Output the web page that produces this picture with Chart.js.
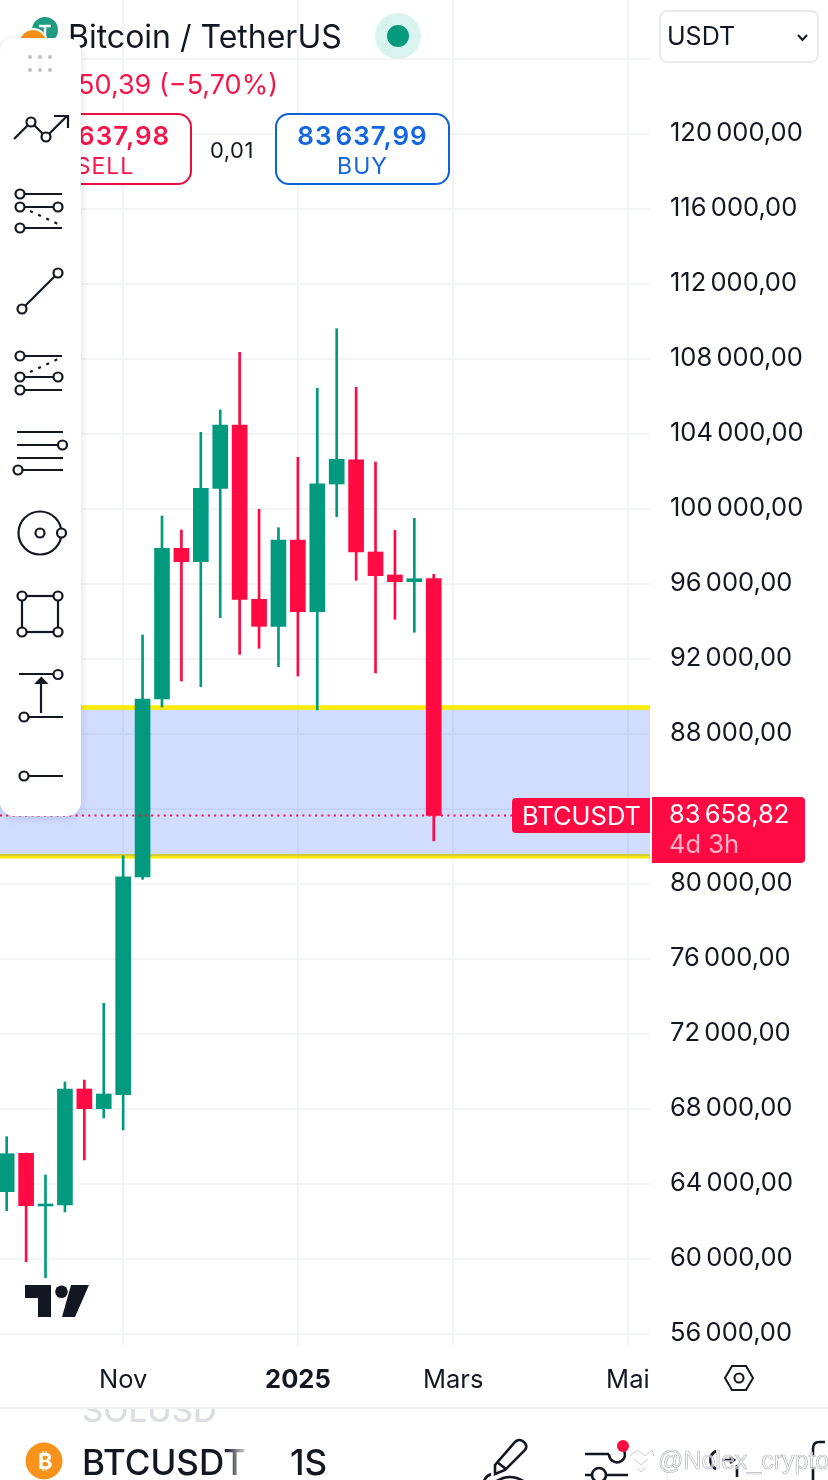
<!DOCTYPE html>
<html>
<head>
<meta charset="utf-8">
<title>BTCUSDT</title>
<script src="https://cdn.jsdelivr.net/npm/chart.js@4"></script>
<style>
  html, body { margin: 0; padding: 0; background: #fff; overflow: hidden; }
  body { width: 828px; height: 1480px; position: relative; font-family: Inter, Roboto, sans-serif; color: #131722; }
  #chart { position: absolute; left: 0; top: 0; }
  .t { position: absolute; white-space: nowrap; line-height: 1; }
  .box { position: absolute; box-sizing: border-box; background: #fff; }
  svg { position: absolute; left: 0; top: 0; }
  #toolbar { position: absolute; left: 0; top: 38px; width: 81px; height: 778px; background: #fff;
    border-radius: 14px; box-shadow: 0 2px 8px rgba(0,0,0,.14); }
  #nav { position: absolute; left: 0; top: 1407px; width: 828px; height: 73px; background: #fff; border-top: 2px solid #eff1f4; box-sizing: border-box; overflow: hidden; }
</style>
</head>
<body>
<canvas id="chart" width="828" height="1480"></canvas>

<!-- header -->
<svg width="828" height="120">
  <circle cx="45" cy="30" r="13" fill="#1f9c82"/>
  <path d="M39 26 H51 M45 26 V37" stroke="#fff" stroke-width="2.5"/>
  <circle cx="33" cy="43" r="14" fill="#f7931a" stroke="#fff" stroke-width="2"/>
  <circle cx="398" cy="36" r="23" fill="#d9f3ee"/>
  <circle cx="398" cy="36" r="11" fill="#059a7d"/>
</svg>
<div class="t" style="left:68px;top:21px;font-size:32px;">Bitcoin / TetherUS</div>
<div class="t" style="right:550px;top:71px;font-size:27px;color:#f5164a;">−5&#8239;050,39 (−5,70%)</div>

<div class="box" style="left:18px;top:113px;width:174px;height:72px;border:2px solid #e8103f;border-radius:14px;"></div>
<div class="t" style="left:18px;width:174px;text-align:center;top:123px;font-size:26px;font-weight:600;letter-spacing:1px;color:#f5164a;">83&#8202;637,98</div>
<div class="t" style="left:18px;width:174px;text-align:center;top:155px;font-size:23px;letter-spacing:1px;color:#f5164a;">SELL</div>
<div class="t" style="left:210px;top:139px;font-size:22px;letter-spacing:.5px;">0,01</div>
<div class="box" style="left:275px;top:113px;width:175px;height:72px;border:2px solid #0f62d6;border-radius:14px;"></div>
<div class="t" style="left:275px;width:175px;text-align:center;top:123px;font-size:26px;font-weight:600;letter-spacing:1px;color:#1266e0;">83&#8202;637,99</div>
<div class="t" style="left:275px;width:175px;text-align:center;top:155px;font-size:23px;letter-spacing:1px;color:#1266e0;">BUY</div>

<div class="box" style="left:659px;top:10px;width:160px;height:53px;border:2px solid #e9ebee;border-radius:8px;"></div>
<div class="t" style="left:667px;top:24px;font-size:25px;">USDT</div>
<svg width="828" height="70"><path d="M798 35 L802.5 40 L807 35" fill="none" stroke="#131722" stroke-width="2"/></svg>

<!-- last price tags -->
<div class="box" style="left:512px;top:798px;width:138px;height:35px;background:#ff0a42;border-radius:4px 0 0 4px;"></div>
<div class="t" style="left:522px;top:803px;font-size:25.5px;color:#fff;">BTCUSDT</div>
<div class="box" style="left:652px;top:797px;width:153px;height:66px;background:#ff0a42;border-radius:0 4px 4px 0;"></div>
<div class="t" style="left:669px;top:801px;font-size:25.5px;color:#fff;">83&#8198;658,82</div>
<div class="t" style="left:669px;top:831px;font-size:25.5px;color:#ffb3c6;">4d 3h</div>

<!-- tradingview mark -->
<svg width="828" height="1480" style="pointer-events:none">
  <path d="M25 1285 H51 V1317 H38 V1298 H25 Z" fill="#131722"/>
  <circle cx="61.5" cy="1291.7" r="6.3" fill="#131722"/>
  <path d="M71 1285 H89 L75 1317 H62 Z" fill="#131722"/>
  <path d="M732 1366 H746 L753 1378 L746 1390 H732 L725 1378 Z" fill="none" stroke="#131722" stroke-width="2"/>
  <circle cx="739" cy="1378" r="4.5" fill="none" stroke="#131722" stroke-width="2"/>
</svg>

<!-- drawing toolbar -->
<div id="toolbar"></div>
<svg width="90" height="830" fill="none" stroke="#131722" stroke-width="2.2">
  <g fill="#bdbfc4" stroke="none">
    <circle cx="30" cy="57" r="2"/><circle cx="40" cy="57" r="2"/><circle cx="50" cy="57" r="2"/>
    <circle cx="30" cy="70" r="2"/><circle cx="40" cy="70" r="2"/><circle cx="50" cy="70" r="2"/>
  </g>
  <path d="M14 139 L31 122 L46 137 L67 116 M54 116 H68 V128"/>
  <path d="M24 194 H62 M24 207 H54 M24 228 H62"/><path d="M30 211 L58 224" stroke-dasharray="3 6"/>
  <line x1="22" y1="309" x2="58" y2="273"/>
  <path d="M24 356 H62 M24 377 H54 M24 390 H62"/><path d="M30 372 L58 359" stroke-dasharray="3 6"/>
  <path d="M17 432 H63 M17 445 H58 M17 458 H63 M22 470 H63"/>
  <circle cx="40" cy="533" r="21.5"/>
  <rect x="22" y="596" width="36" height="36"/>
  <path d="M19 674 H54 M28 717 H63 M41 713 V682"/>
  <path d="M36.7 683 H46 L41.3 678 Z" fill="#131722"/>
  <path d="M28 776 H63"/>
  <g fill="#fff" stroke-width="2.2">
    <circle cx="31" cy="122" r="4.5"/><circle cx="46" cy="137" r="4.5"/>
    <circle cx="20" cy="194" r="4.5"/><circle cx="20" cy="207" r="4.5"/><circle cx="58" cy="207" r="4.5"/><circle cx="20" cy="228" r="4.5"/>
    <circle cx="22" cy="309" r="4.5"/><circle cx="58" cy="273" r="4.5"/>
    <circle cx="20" cy="356" r="4.5"/><circle cx="20" cy="377" r="4.5"/><circle cx="58" cy="377" r="4.5"/><circle cx="20" cy="390" r="4.5"/>
    <circle cx="62.5" cy="445" r="4.5"/><circle cx="18" cy="470" r="4.5"/>
    <circle cx="40" cy="533" r="4.5"/><circle cx="61.5" cy="533" r="4.5"/>
    <circle cx="22" cy="596" r="4.5"/><circle cx="58" cy="596" r="4.5"/><circle cx="22" cy="632" r="4.5"/><circle cx="58" cy="632" r="4.5"/>
    <circle cx="58" cy="674.5" r="4.5"/><circle cx="24" cy="717" r="4.5"/>
    <circle cx="24" cy="776" r="4.5"/>
  </g>
</svg>

<!-- bottom bar -->
<div id="nav">
  <div class="t" style="left:82px;top:-15px;font-size:33px;font-weight:500;color:#dcdee1;">SOLUSD</div>
  <svg width="828" height="73" fill="none" stroke="#131722" stroke-width="2.6">
    <circle cx="44" cy="52" r="18.5" fill="#f7931a" stroke="none"/>
    <path d="M495 56 L515 33 Q519 29 524 33 Q528 37 525 41 L505 61 L495 65 Z M497 53 L506 60"/>
    <path d="M484 72 Q486 67 491 65 M495 73 Q510 63 525 73"/>
    <path d="M585 45 H609 M620 38 A8 8 0 1 1 609 45 M585 66 H592 M606 66 H628"/>
    <circle cx="599" cy="66" r="7"/>
    <circle cx="623" cy="37" r="6" fill="#ff0a42" stroke="none"/>
    <line x1="667" y1="40" x2="667" y2="73" stroke="#e6e8eb" stroke-width="1"/>
    <path d="M716 42 A10 10 0 0 0 716 60 M722 51 H733 M730 48 L734 51 L730 54 M737 56 V68"/>
    <path d="M825 33 H819 Q813 33 813 40 V47 M813 58 V73"/>
    <path d="M630 47 L638 41 L645 47 L652 41 L654 47 M634 50 L641 56 L648 50 M637 59 L641 63 L645 59" stroke="#c9cbd0" stroke-width="1"/>
  </svg>
  <div class="t" style="left:38px;top:41px;font-size:22px;font-weight:700;color:#fff;">₿</div>
  <div class="t" style="left:82px;top:36px;font-size:35px;font-weight:500;">BTCUSDT</div>
  <div class="box" style="left:225px;top:30px;width:25px;height:43px;background:linear-gradient(to right,rgba(255,255,255,0),#fff);"></div>
  <div class="t" style="left:290px;top:36px;font-size:35px;font-weight:500;">1S</div>
  <div class="t" style="left:658px;top:39px;font-family:'Liberation Sans';font-size:25px;color:rgba(255,255,255,.65);-webkit-text-stroke:.7px #b4b7bd;">@Nolex_crypto</div>
</div>

<script>
const weeks = ['2024-09-16', '2024-09-23', '2024-09-30', '2024-10-07', '2024-10-14', '2024-10-21', '2024-10-28',
  '2024-11-04', '2024-11-11', '2024-11-18', '2024-11-25', '2024-12-02', '2024-12-09', '2024-12-16', '2024-12-23',
  '2024-12-30', '2025-01-06', '2025-01-13', '2025-01-20', '2025-01-27', '2025-02-03', '2025-02-10', '2025-02-17'];
const opens = [63589, 65637, 62827, 62880, 69067, 68016, 68763, 80373, 89867, 97904, 97189, 101104, 104480, 95184, 93744,
  98347, 94523, 101333, 102629, 97707, 96480, 96123, 96283];
const closes = [65616, 62843, 62933, 69067, 68016, 68800, 80389, 89867, 97904, 97189, 101104, 104480, 95184, 93744, 98347,
  94523, 101349, 102651, 97707, 96443, 96123, 96283, 83658.82];
const highs = [66523, 65650, 64480, 69440, 69547, 73637, 81509, 93280, 99627, 98880, 104091, 105280, 108357, 99984, 99003,
  102757, 106437, 109616, 106491, 102507, 98864, 99504, 96517];
const lows = [62576, 59856, 59003, 62507, 65280, 67520, 66880, 80251, 89440, 90827, 90523, 94203, 92251, 92571, 91589,
  91093, 89280, 99589, 96197, 91253, 94117, 93424, 82293];

const priceTicks = [56000, 60000, 64000, 68000, 72000, 76000, 80000, 84000, 88000, 92000, 96000, 100000,
  104000, 108000, 112000, 116000, 120000, 124000];
const hiddenPriceTicks = [124000];
const timeTicks = [6, 15, 23, 32];
const timeLabels = ['Nov', '2025', 'Mars', 'Mai'];

const zoneTop = 89410;
const zoneBottom = 81480;
const lastPrice = 83658.82;

const viewX = [-0.345, 33.14];
const viewY = [55360, 127147];

const UP = '#029a7e';
const DOWN = '#ff0a42';
const GRID = '#f3f4f5';

const candleColor = i => closes[i] >= opens[i] ? UP : DOWN;
const flat = v => viewX.map(x => ({ x, y: v }));
const priceLabel = v => v.toLocaleString('fr-FR', { minimumFractionDigits: 2 }).replace(/\s/g, '\u2006').replace('.', ',');

new Chart(document.getElementById('chart'), {
  type: 'bar',
  data: {
    datasets: [
      { type: 'line', data: flat(zoneTop), borderColor: '#ffeb00', borderWidth: 4.5, pointRadius: 0,
        fill: '+1', backgroundColor: 'rgba(41, 98, 255, .22)', order: 4 },
      { type: 'line', data: flat(zoneBottom), borderColor: '#ffeb00', borderWidth: 4.5, pointRadius: 0, order: 4 },
      { data: weeks.map((w, i) => ({ x: i, y: [lows[i], highs[i]] })), backgroundColor: weeks.map((w, i) => candleColor(i)),
        barThickness: 2, grouped: false, order: 3 },
      { data: weeks.map((w, i) => ({ x: i, y: [opens[i], closes[i]] })), backgroundColor: weeks.map((w, i) => candleColor(i)),
        barThickness: 15, grouped: false, order: 2 },
      { type: 'line', data: flat(lastPrice), borderColor: DOWN, borderWidth: 2, borderDash: [2, 4.3], pointRadius: 0, order: 1 }
    ]
  },
  options: {
    responsive: false,
    animation: false,
    layout: { padding: 0 },
    plugins: { legend: { display: false }, tooltip: { enabled: false } },
    scales: {
      x: {
        type: 'linear',
        offset: false,
        min: viewX[0],
        max: viewX[1],
        afterFit: scale => { scale.height = 134; scale.paddingLeft = 0; scale.paddingRight = 0; },
        afterBuildTicks: scale => { scale.ticks = timeTicks.map(value => ({ value })); },
        grid: { color: GRID, lineWidth: 2, offset: false, drawTicks: false },
        border: { display: false },
        ticks: {
          autoSkip: false,
          maxRotation: 0,
          padding: 19,
          color: '#131722',
          font: ctx => ({ family: 'Inter', size: 25.5, weight: timeLabels[ctx.index] === '2025' ? 'bold' : 'normal' }),
          callback: (value, index) => timeLabels[index]
        }
      },
      y: {
        position: 'right',
        min: viewY[0],
        max: viewY[1],
        afterFit: scale => { scale.width = 178; scale.paddingTop = 0; scale.paddingBottom = 0; },
        afterBuildTicks: scale => { scale.ticks = priceTicks.map(value => ({ value })); },
        grid: { color: GRID, lineWidth: 2, drawTicks: false },
        border: { display: false },
        ticks: {
          padding: 20,
          labelOffset: -1,
          color: '#131722',
          font: { family: 'Inter', size: 25.5 },
          callback: value => hiddenPriceTicks.includes(value) ? '' : priceLabel(value)
        }
      }
    }
  }
});
</script>
</body>
</html>
